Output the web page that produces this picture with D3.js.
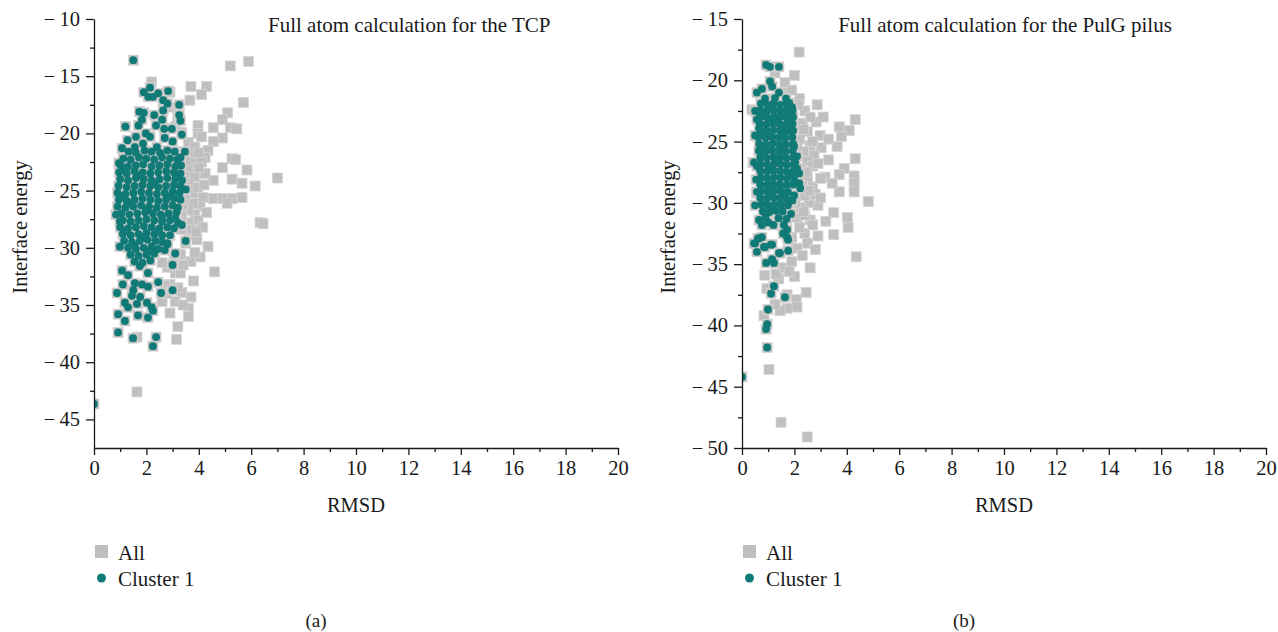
<!DOCTYPE html>
<html>
<head>
<meta charset="utf-8">
<script src="https://cdn.jsdelivr.net/npm/d3@7"></script>
<style>
  body { margin: 0; background: #fff; }
  svg text { font-family: "Liberation Serif", "DejaVu Serif", serif; fill: #1a1a1a; }
  .axis path, .axis line { stroke: #1a1a1a; stroke-width: 1.3; }
</style>
</head>
<body>
<div id="chart"></div>
<script>
// ---- data: [RMSD, interface energy] ----
// (a) TCP, points that are only in "All"
var tcpAllOnly = [
  [5.2,-14.1],[5.9,-13.7],[2.2,-15.5],[3.7,-15.9],[4.3,-15.9],[3.66,-17.1],[4.1,-16.6],[5.7,-17.3],
  [5.1,-18.2],[4.9,-18.8],[4.55,-19.5],[3.97,-19.3],[5.2,-19.5],[5.45,-19.6],[4.9,-20.4],[4.55,-20.7],
  [3.97,-20.0],[4.35,-21.5],[4.24,-22.1],[5.27,-22.2],[5.4,-22.3],[5.84,-23.2],[4.9,-23.0],[5.27,-24.0],
  [5.65,-24.35],[6.15,-24.6],[7.0,-23.9],[4.55,-24.1],[4.24,-23.5],[4.55,-25.7],[4.9,-25.7],[5.27,-25.7],
  [5.65,-25.6],[5.08,-26.1],[4.16,-25.6],[3.78,-25.2],[3.97,-24.7],[4.05,-26.4],[3.85,-27.1],[3.97,-27.6],
  [6.34,-27.8],[6.45,-27.9],[3.6,-28.9],[3.93,-29.3],[4.35,-29.9],
  [3.0,-17.7],[3.2,-18.6],[2.4,-19.1],[3.1,-19.4],[3.35,-19.9],[3.2,-18.0],[2.9,-16.4],
  [3.6,-20.8],[3.85,-21.2],[4.1,-20.3],[3.66,-21.9],[3.85,-22.6],[3.6,-23.2],[3.85,-23.8],[3.6,-24.4],
  [3.78,-26.1],[3.6,-26.7],[3.6,-27.8],[3.35,-28.4],[3.74,-28.4],[3.47,-25.0],[3.47,-25.6],[3.4,-26.2],
  [3.35,-27.2],[4.1,-22.5],[4.0,-21.7],[3.5,-22.4],[3.45,-23.8],[4.0,-23.0],[4.2,-24.5],[4.3,-26.9],
  [4.15,-28.2],[3.9,-28.6],[3.5,-29.6],[3.3,-30.6],
  [4.6,-32.1],[3.8,-32.9],[3.7,-34.3],[3.6,-35.3],[3.6,-36.0],[3.2,-36.9],[3.15,-38.0],[2.9,-35.7],
  [1.64,-37.8],[1.64,-42.6],[3.7,-31.2],[4.05,-30.8],[3.35,-33.9],[2.6,-34.7],[3.1,-34.7],[3.1,-32.2],
  [3.3,-32.2],[2.8,-31.7],[2.6,-31.3],[3.85,-30.4],[3.4,-31.5],[2.9,-33.2],[3.2,-33.5],[2.7,-33.3],
  [3.4,-35.0],[2.8,-34.0],[3.05,-31.0]
];
// (a) TCP, cluster 1
var tcpCluster = [
  [1.5,-13.6],[2.14,-16.0],[1.9,-16.4],[2.07,-16.8],[2.25,-16.8],[2.45,-16.5],[2.83,-16.3],[2.64,-17.1],
  [2.8,-17.4],[3.25,-17.5],[2.64,-18.0],[1.73,-18.1],[1.9,-18.2],[2.3,-18.4],[3.25,-18.4],[1.83,-18.8],
  [2.6,-18.8],[3.3,-18.9],[1.2,-19.4],[1.7,-19.3],[2.37,-19.3],[2.68,-19.6],[2.97,-19.6],[1.98,-20.0],
  [1.6,-20.3],[2.14,-20.3],[2.7,-20.4],[3.35,-20.1],[1.28,-20.6],[3.0,-20.7],[1.07,-21.3],[1.56,-21.2],
  [1.87,-20.9],[2.4,-21.2],[3.47,-21.6],[3.3,-22.1],[0.95,-22.6],[3.5,-24.9],[0.84,-27.1],[0.99,-27.7],
  [3.5,-29.4],[3.2,-27.8],[3.35,-28.0],[2.9,-28.9],[2.8,-29.6],
  [1.32,-21.6],[1.6,-21.7],[1.93,-21.5],[2.2,-21.6],[2.52,-21.7],[2.8,-21.5],[3.08,-21.6],
  [1.12,-22.2],[1.4,-22.3],[1.72,-22.1],[2.0,-22.2],[2.3,-22.3],[2.6,-22.1],[2.9,-22.2],[3.18,-22.3],
  [1.02,-22.8],[1.3,-22.9],[1.6,-22.8],[1.88,-22.7],[2.2,-22.9],[2.5,-22.8],[2.8,-22.7],[3.1,-22.9],[3.32,-22.8],
  [0.96,-23.4],[1.25,-23.5],[1.55,-23.3],[1.86,-23.4],[2.15,-23.5],[2.45,-23.4],[2.76,-23.3],[3.05,-23.4],[3.3,-23.5],
  [1.0,-24.0],[1.3,-24.1],[1.6,-23.9],[1.9,-24.0],[2.2,-24.1],[2.5,-24.0],[2.8,-23.9],[3.1,-24.0],[3.36,-24.1],
  [0.94,-24.6],[1.25,-24.7],[1.55,-24.6],[1.85,-24.5],[2.15,-24.6],[2.45,-24.7],[2.75,-24.6],[3.05,-24.5],[3.3,-24.6],
  [0.9,-25.2],[1.2,-25.3],[1.5,-25.2],[1.8,-25.1],[2.1,-25.2],[2.4,-25.3],[2.7,-25.2],[3.0,-25.1],[3.26,-25.2],
  [0.95,-25.8],[1.25,-25.9],[1.55,-25.8],[1.85,-25.7],[2.15,-25.8],[2.45,-25.9],[2.75,-25.8],[3.05,-25.7],[3.3,-25.8],
  [0.9,-26.4],[1.2,-26.5],[1.5,-26.4],[1.8,-26.3],[2.1,-26.4],[2.4,-26.5],[2.7,-26.4],[3.0,-26.3],[3.2,-26.5],
  [1.05,-27.0],[1.35,-27.1],[1.65,-27.0],[1.95,-26.9],[2.25,-27.0],[2.55,-27.1],[2.85,-27.0],[3.15,-26.9],
  [1.1,-27.6],[1.4,-27.7],[1.7,-27.6],[2.0,-27.5],[2.3,-27.6],[2.6,-27.7],[2.9,-27.6],[3.1,-27.4],
  [1.0,-28.2],[1.3,-28.3],[1.6,-28.2],[1.9,-28.1],[2.2,-28.2],[2.5,-28.3],[2.8,-28.2],[3.05,-28.3],
  [1.1,-28.8],[1.4,-28.9],[1.7,-28.8],[2.0,-28.7],[2.3,-28.8],[2.6,-28.9],
  [1.15,-29.4],[1.45,-29.5],[1.75,-29.4],[2.05,-29.3],[2.35,-29.4],[2.6,-29.5],
  [1.3,-30.0],[1.6,-30.1],[1.9,-30.0],[2.2,-29.9],[2.45,-30.1],
  [1.4,-30.6],[1.7,-30.7],[2.0,-30.6],[2.3,-30.5],
  [1.55,-31.2],[1.85,-31.3],[2.15,-31.1],
  [1.15,-23.1],[1.7,-23.7],[2.3,-24.4],[2.9,-25.5],[1.4,-26.1],[2.0,-26.7],[2.6,-27.3],[1.25,-28.5],
  [1.85,-29.1],[2.45,-28.5],[1.55,-29.8],[2.1,-30.3],[1.05,-25.5],[3.15,-23.7],[1.75,-31.6],
  [0.99,-29.9],[2.8,-29.7],[3.1,-30.5],[2.7,-30.2],[3.0,-31.5],[1.07,-32.0],[1.3,-32.4],[2.06,-32.2],
  [2.45,-33.0],[1.1,-33.2],[1.56,-33.1],[1.83,-33.2],[2.06,-33.4],[0.88,-33.95],[1.5,-33.7],[2.56,-33.95],
  [3.0,-33.7],[1.45,-34.2],[1.76,-34.3],[1.18,-34.8],[1.3,-35.2],[1.64,-34.9],[2.02,-34.8],[2.2,-35.2],
  [2.25,-35.5],[0.92,-35.8],[1.68,-35.9],[2.06,-36.1],[1.18,-36.4],[0.92,-37.4],[1.49,-37.9],[2.37,-37.8],
  [2.25,-38.6],[0.0,-43.65]
];

// (b) PulG pilus, points that are only in "All"
var pulAllOnly = [
  [2.18,-17.7],[2.87,-22.0],[4.32,-23.2],[3.71,-23.8],[4.09,-24.1],[3.79,-24.6],[3.63,-25.4],[2.98,-24.5],
  [2.83,-23.4],[3.02,-25.5],[2.75,-26.1],[4.32,-26.4],[3.9,-27.2],[3.71,-27.7],[4.28,-27.8],[4.28,-28.4],
  [4.28,-29.1],[4.82,-29.9],[3.71,-29.1],[3.17,-27.9],[3.44,-28.4],[2.9,-30.2],[2.55,-30.0],[4.02,-31.2],
  [4.05,-32.0],[2.4,-32.5],[2.1,-33.7],[4.36,-34.4],[1.6,-35.3],[0.87,-35.9],[2.45,-37.3],[1.72,-37.5],
  [2.07,-37.9],[2.1,-38.5],[1.72,-38.6],[1.45,-38.8],[1.26,-38.3],[0.84,-39.2],[1.03,-43.6],[1.49,-47.9],
  [2.49,-49.1],[1.64,-20.2],[1.26,-19.4],[1.5,-21.0],[0.38,-22.4],[0.42,-26.7],[0.55,-29.2],
  [2.2,-21.5],[2.4,-22.5],[2.3,-23.5],[2.6,-23.0],[2.5,-24.2],[2.2,-24.8],[2.6,-25.3],[2.35,-25.8],
  [2.5,-26.6],[2.25,-27.3],[2.7,-27.0],[2.5,-27.9],[2.3,-28.6],[2.7,-28.7],[2.4,-29.4],[2.25,-30.4],
  [2.1,-31.2],[2.6,-31.4],[2.4,-31.0],[2.8,-29.3],[3.0,-28.0],[2.9,-26.8],[2.7,-31.8],[2.2,-32.0],
  [1.9,-32.8],[2.5,-33.3],[2.3,-34.3],[1.9,-34.8],[2.0,-36.0],[1.4,-36.2],[1.8,-35.6],[0.95,-37.0],
  [2.9,-32.7],[2.6,-35.3],[2.0,-19.6],[1.9,-20.8],[2.7,-25.0],[3.3,-26.5],[3.5,-30.8],
  [2.15,-22.0],[2.35,-24.0],[2.1,-25.6],[2.45,-27.5],[2.15,-28.2],[2.55,-29.0],[2.35,-30.7],[2.05,-30.0],
  [3.1,-23.0],[3.3,-24.8],[3.0,-29.6],[3.2,-31.5],[2.8,-33.8],[3.5,-32.6],[1.3,-35.8]
];
// (b) PulG pilus, cluster 1
var pulCluster = [
  [0.92,-18.75],[1.07,-18.9],[1.41,-18.9],[1.07,-20.1],[1.15,-20.5],[0.76,-20.7],[0.57,-21.0],[1.41,-21.0],
  [1.26,-21.45],[0.88,-21.5],[1.68,-21.5],[1.8,-21.85],[1.91,-22.2],[0.5,-22.5],[0.69,-22.7],[0.57,-23.2],
  [1.72,-22.8],[1.8,-23.4],[1.64,-23.9],[0.65,-23.9],[1.85,-24.1],[0.5,-24.5],[1.99,-25.4],[2.1,-26.2],
  [0.46,-26.7],[0.57,-27.0],[2.03,-26.7],[2.1,-27.2],[2.18,-27.6],[0.54,-28.1],[2.18,-28.4],[2.22,-28.8],
  [0.57,-29.1],[1.99,-29.4],[0.5,-30.2],[1.87,-30.9],[0.65,-31.4],[0.76,-31.8],[1.0,-31.6],[1.2,-31.8],
  [1.6,-31.8],[1.72,-32.2],[1.6,-32.5],[0.65,-32.9],[0.5,-33.3],[0.88,-33.6],[1.1,-33.4],[1.41,-34.1],
  [1.76,-33.9],[0.57,-34.0],[0.46,-33.3],[0.61,-32.9],[0.76,-32.8],[0.84,-33.6],[1.15,-33.4],[0.92,-34.9],
  [1.15,-34.6],[1.22,-34.9],[1.45,-34.1],[1.57,-32.5],[1.72,-32.8],[1.76,-33.0],[1.22,-36.8],[1.11,-37.4],
  [1.64,-37.7],[0.99,-38.7],[0.96,-39.9],[0.92,-40.3],[0.96,-41.8],[0.0,-44.2],
  [0.72,-21.9],[0.97,-22.0],[1.2,-21.9],[1.46,-22.0],[1.7,-21.9],
  [0.7,-22.45],[0.95,-22.5],[1.2,-22.4],[1.45,-22.5],[1.7,-22.45],[1.93,-22.5],
  [0.72,-23.0],[0.97,-23.05],[1.22,-22.95],[1.47,-23.0],[1.72,-23.05],[1.95,-23.0],
  [0.68,-23.55],[0.93,-23.6],[1.18,-23.5],[1.43,-23.55],[1.68,-23.6],[1.93,-23.55],
  [0.7,-24.1],[0.95,-24.15],[1.2,-24.05],[1.45,-24.1],[1.7,-24.15],[1.95,-24.1],
  [0.62,-24.65],[0.9,-24.7],[1.15,-24.6],[1.4,-24.65],[1.65,-24.7],[1.92,-24.65],
  [0.66,-25.2],[0.92,-25.25],[1.18,-25.15],[1.43,-25.2],[1.68,-25.25],[1.95,-25.2],
  [0.64,-25.75],[0.9,-25.8],[1.15,-25.7],[1.4,-25.75],[1.66,-25.8],[1.93,-25.75],
  [0.7,-26.3],[0.95,-26.35],[1.2,-26.25],[1.45,-26.3],[1.7,-26.35],[1.96,-26.3],
  [0.72,-26.85],[0.97,-26.9],[1.22,-26.8],[1.47,-26.85],[1.72,-26.9],[1.98,-26.85],
  [0.7,-27.4],[0.95,-27.45],[1.2,-27.35],[1.45,-27.4],[1.7,-27.45],[1.97,-27.4],
  [0.72,-27.95],[0.97,-28.0],[1.22,-27.9],[1.47,-27.95],[1.72,-28.0],[1.98,-27.95],
  [0.7,-28.5],[0.95,-28.55],[1.2,-28.45],[1.45,-28.5],[1.7,-28.55],[1.95,-28.5],
  [0.75,-29.05],[1.0,-29.1],[1.25,-29.0],[1.5,-29.05],[1.75,-29.1],
  [0.7,-29.6],[0.95,-29.65],[1.2,-29.55],[1.45,-29.6],[1.7,-29.65],[1.92,-29.8],
  [0.75,-30.15],[1.0,-30.2],[1.25,-30.1],[1.5,-30.15],[1.75,-30.2],
  [0.8,-30.7],[1.05,-30.75],[1.3,-30.65],[1.55,-30.7],
  [0.9,-31.2],[1.4,-31.25],[1.7,-31.3],
  [0.82,-22.75],[1.32,-23.3],[1.57,-24.4],[0.8,-25.5],[1.3,-26.6],[1.82,-27.7],[1.05,-28.8],[1.6,-29.35],
  [1.1,-30.45],[0.85,-24.4],[1.55,-25.5],[1.08,-27.15]
];

var rmsdTicks = [0, 2, 4, 6, 8, 10, 12, 14, 16, 18, 20];
var rmsdMinor = [1, 3, 5, 7, 9, 11, 13, 15, 17, 19];
var tcpEnergyTicks = [-10, -15, -20, -25, -30, -35, -40, -45];
var tcpEnergyMinor = [-12.5, -17.5, -22.5, -27.5, -32.5, -37.5, -42.5];
var pulEnergyTicks = [-15, -20, -25, -30, -35, -40, -45, -50];
var pulEnergyMinor = [-17.5, -22.5, -27.5, -32.5, -37.5, -42.5, -47.5];

var grey = "#bfbfbf";
var teal = "#107a76";

var svg = d3.select("#chart").append("svg")
    .attr("width", 1278)
    .attr("height", 632);

function drawPanel(p) {
    var x = d3.scaleLinear().domain([0, 20]).range([p.left, p.left + 524]);
    var y = d3.scaleLinear().domain(p.yDomain).range([448, 19]);

    var g = svg.append("g");

    g.append("clipPath").attr("id", "clip" + p.id)
        .append("rect")
        .attr("x", p.left).attr("y", 10)
        .attr("width", 530).attr("height", 440);

    var plot = g.append("g").attr("clip-path", "url(#clip" + p.id + ")");

    // every point is in "All": grey squares first
    var all = p.allOnly.concat(p.cluster);
    plot.selectAll(".sq")
        .data(all)
        .enter().append("rect")
        .attr("class", "sq")
        .attr("x", function (d) { return x(d[0]) - 5; })
        .attr("y", function (d) { return y(d[1]) - 5; })
        .attr("width", 10).attr("height", 10)
        .style("fill", grey)
        .style("stroke", "#d6d6d6")
        .style("stroke-width", 0.8);

    plot.selectAll(".dot")
        .data(p.cluster)
        .enter().append("circle")
        .attr("class", "dot")
        .attr("cx", function (d) { return x(d[0]); })
        .attr("cy", function (d) { return y(d[1]); })
        .attr("r", 3.9)
        .style("fill", teal);

    // axes
    var fmt = function (d) { return d < 0 ? "\u2212\u2009" + Math.abs(d) : d; };

    g.append("g").attr("class", "axis")
        .attr("transform", "translate(0,448)")
        .call(d3.axisBottom(x).tickValues(p.xMinor).tickSize(4).tickFormat(""))
        .call(function (s) { s.select(".domain").remove(); });
    var xa = g.append("g").attr("class", "axis")
        .attr("transform", "translate(0,448)")
        .call(d3.axisBottom(x).tickValues(p.xTicks).tickSize(7).tickSizeOuter(0).tickPadding(5).tickFormat(fmt));
    xa.selectAll("text").style("font-size", "20.5px");

    g.append("g").attr("class", "axis")
        .attr("transform", "translate(" + p.left + ",0)")
        .call(d3.axisLeft(y).tickValues(p.yMinor).tickSize(4).tickFormat(""))
        .call(function (s) { s.select(".domain").remove(); });
    var ya = g.append("g").attr("class", "axis")
        .attr("transform", "translate(" + p.left + ",0)")
        .call(d3.axisLeft(y).tickValues(p.yTicks).tickSize(8).tickSizeOuter(0).tickPadding(6).tickFormat(fmt));
    ya.selectAll("text").style("font-size", "20.5px");

    // labels
    g.append("text")
        .attr("x", p.titleX).attr("y", 32)
        .style("text-anchor", p.titleAnchor)
        .style("font-size", "21px")
        .text(p.title);

    g.append("text")
        .attr("transform", "translate(" + (p.left - 67) + ",227) rotate(-90)")
        .style("text-anchor", "middle")
        .style("font-size", "20.5px")
        .text("Interface energy");

    g.append("text")
        .attr("x", p.left + 262).attr("y", 512)
        .style("text-anchor", "middle")
        .style("font-size", "20.5px")
        .text("RMSD");

    // legend
    g.append("rect")
        .attr("x", p.left + 1).attr("y", 545)
        .attr("width", 13).attr("height", 13)
        .style("fill", grey);
    g.append("text")
        .attr("x", p.left + 24).attr("y", 560)
        .style("font-size", "21px")
        .text("All");
    g.append("circle")
        .attr("cx", p.left + 7.5).attr("cy", 578)
        .attr("r", 4.5)
        .style("fill", teal);
    g.append("text")
        .attr("x", p.left + 24).attr("y", 586)
        .style("font-size", "21px")
        .text("Cluster 1");

    g.append("text")
        .attr("x", p.left + 222).attr("y", 627)
        .style("text-anchor", "middle")
        .style("font-size", "19px")
        .text(p.tag);
}

drawPanel({
    id: "a", left: 94, yDomain: [-47.5, -10],
    xTicks: rmsdTicks, xMinor: rmsdMinor,
    yTicks: tcpEnergyTicks, yMinor: tcpEnergyMinor,
    allOnly: tcpAllOnly, cluster: tcpCluster,
    title: "Full atom calculation for the TCP", titleX: 268, titleAnchor: "start",
    tag: "(a)"
});

drawPanel({
    id: "b", left: 742, yDomain: [-50, -15],
    xTicks: rmsdTicks, xMinor: rmsdMinor,
    yTicks: pulEnergyTicks, yMinor: pulEnergyMinor,
    allOnly: pulAllOnly, cluster: pulCluster,
    title: "Full atom calculation for the PulG pilus", titleX: 1005, titleAnchor: "middle",
    tag: "(b)"
});
</script>
</body>
</html>
